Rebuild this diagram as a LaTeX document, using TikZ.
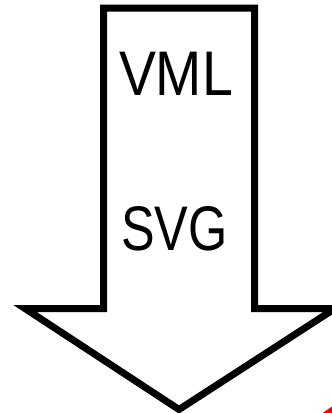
\documentclass[tikz,border=0pt]{standalone}
\usepackage{fontspec}
\setmainfont{Liberation Sans}
\begin{document}
\begin{tikzpicture}[x=1pt,y=-1pt,
  arrowshape/.style={draw=black,line width=7pt,fill=white,line join=miter},
  bigtext/.style={font=\fontsize{63}{63}\selectfont,inner sep=0pt,anchor=base}]
\useasboundingbox (0,0) rectangle (332,413);
\begin{scope}
\clip (0,0) rectangle (332,413);
\draw[arrowshape] (103.5,8) -- (254.5,8) -- (254.5,308.5) -- (335,308.5) -- (179,409.5) -- (25,308.5) -- (103.5,308.5) -- cycle;
\draw[red,line width=6pt] (318,420) -- (342,403);
\end{scope}
\node[bigtext,xscale=0.88] (vml) at (176,95) {VML};
\node[bigtext,xscale=0.8] (svg) at (174.5,250) {SVG};
\end{tikzpicture}
\end{document}
